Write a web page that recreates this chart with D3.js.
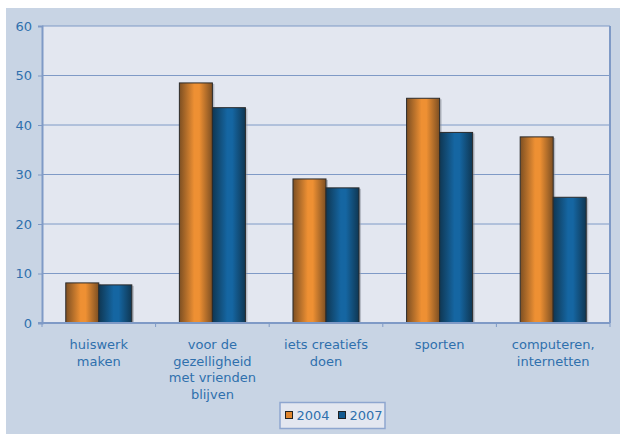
<!DOCTYPE html>
<html>
<head>
<meta charset="UTF-8">
<script src="https://cdn.jsdelivr.net/npm/d3@7"></script>
<style>
  body { margin: 0; background: #fff; }
  svg text { font-family: "DejaVu Sans", Verdana, sans-serif; fill: #2f70ad; }
</style>
</head>
<body>
<script>
// data
var categories = [
  ["huiswerk", "maken"],
  ["voor de", "gezelligheid", "met vrienden", "blijven"],
  ["iets creatiefs", "doen"],
  ["sporten"],
  ["computeren,", "internetten"]
];
var years = ["2004", "2007"];
var values2004 = [8.1, 48.5, 29.1, 45.4, 37.6];
var values2007 = [7.7, 43.5, 27.3, 38.5, 25.4];
var yTicks = [0, 10, 20, 30, 40, 50, 60];

var W = 623, H = 434;
var plot = { left: 42, top: 26, right: 610, bottom: 323 };

var svg = d3.select("body").append("svg")
  .attr("width", W)
  .attr("height", H);

var defs = svg.append("defs");
function cylGrad(id, edge, mid) {
  var g = defs.append("linearGradient").attr("id", id)
    .attr("x1", "0%").attr("x2", "100%").attr("y1", "0%").attr("y2", "0%");
  g.append("stop").attr("offset", "0%").attr("stop-color", edge);
  g.append("stop").attr("offset", "45%").attr("stop-color", mid);
  g.append("stop").attr("offset", "60%").attr("stop-color", mid);
  g.append("stop").attr("offset", "100%").attr("stop-color", edge);
}
cylGrad("g2004", "#7d4f22", "#ee9033");
cylGrad("g2007", "#0f3753", "#1566a2");
var fills = { "2004": "url(#g2004)", "2007": "url(#g2007)" };
var swatch = { "2004": "#e0862f", "2007": "#135a8f" };

// outer background
svg.append("rect")
  .attr("x", 6).attr("y", 8)
  .attr("width", 614).attr("height", H - 8)
  .attr("fill", "#c8d4e4");

// plot area
svg.append("rect")
  .attr("x", plot.left).attr("y", plot.top)
  .attr("width", plot.right - plot.left).attr("height", plot.bottom - plot.top)
  .attr("fill", "#e3e7f0");

var y = d3.scaleLinear().domain([0, 60]).range([plot.bottom, plot.top]);
var x0 = d3.scaleBand().domain(d3.range(categories.length))
  .range([plot.left, plot.right]).paddingInner(0).paddingOuter(0);
var x1 = d3.scaleBand().domain(years)
  .range([0, x0.bandwidth()]).paddingInner(0).paddingOuter(0.72);

// gridlines
svg.append("g").selectAll("line")
  .data(yTicks.filter(function(d) { return d > 0; }))
  .enter().append("line")
  .attr("x1", plot.left).attr("x2", plot.right)
  .attr("y1", function(d) { return y(d); })
  .attr("y2", function(d) { return y(d); })
  .attr("stroke", "#7f9ac6").attr("stroke-width", 1);

// right border of plot
svg.append("line")
  .attr("x1", plot.right).attr("x2", plot.right)
  .attr("y1", plot.top).attr("y2", plot.bottom)
  .attr("stroke", "#7f9ac6").attr("stroke-width", 2);

// bars
var groups = svg.append("g").selectAll("g")
  .data(categories.map(function(c, i) {
    return { i: i, vals: [{ year: "2004", v: values2004[i] }, { year: "2007", v: values2007[i] }] };
  }))
  .enter().append("g")
  .attr("transform", function(d) { return "translate(" + x0(d.i) + ",0)"; });

// shadows
groups.selectAll("rect.shadow")
  .data(function(d) { return d.vals; })
  .enter().append("rect")
  .attr("class", "shadow")
  .attr("x", function(d) { return x1(d.year) + 2; })
  .attr("y", function(d) { return y(d.v) + 1; })
  .attr("width", x1.bandwidth())
  .attr("height", function(d) { return plot.bottom - y(d.v) - 1; })
  .attr("fill", "#8a8f99").attr("opacity", 0.5);

groups.selectAll("rect.bar")
  .data(function(d) { return d.vals; })
  .enter().append("rect")
  .attr("class", "bar")
  .attr("x", function(d) { return x1(d.year); })
  .attr("y", function(d) { return y(d.v); })
  .attr("width", x1.bandwidth())
  .attr("height", function(d) { return plot.bottom - y(d.v); })
  .attr("fill", function(d) { return fills[d.year]; })
  .attr("stroke", "#2b2b2b").attr("stroke-width", 1);

// y axis
var yAxis = svg.append("g")
  .attr("transform", "translate(" + plot.left + ",0)")
  .call(d3.axisLeft(y).tickValues(yTicks).tickSize(4).tickPadding(6));
yAxis.select(".domain").attr("stroke", "#7f9ac6").attr("stroke-width", 2);
yAxis.selectAll(".tick line").attr("stroke", "#7f9ac6");
yAxis.selectAll(".tick text").attr("font-size", "13px")
  .style("font-family", "DejaVu Sans, Verdana, sans-serif");

// x axis
var xAxis = svg.append("g")
  .attr("transform", "translate(0," + plot.bottom + ")");
xAxis.append("line")
  .attr("x1", plot.left - 4).attr("x2", plot.right)
  .attr("y1", 0).attr("y2", 0)
  .attr("stroke", "#7f9ac6").attr("stroke-width", 2);
xAxis.selectAll("line.tk")
  .data(d3.range(categories.length + 1))
  .enter().append("line")
  .attr("class", "tk")
  .attr("x1", function(d) { return plot.left + d * x0.bandwidth(); })
  .attr("x2", function(d) { return plot.left + d * x0.bandwidth(); })
  .attr("y1", 0).attr("y2", 4)
  .attr("stroke", "#7f9ac6");

var labels = xAxis.selectAll("text.cat")
  .data(categories)
  .enter().append("text")
  .attr("class", "cat")
  .attr("text-anchor", "middle")
  .attr("font-size", "13px")
  .attr("x", function(d, i) { return x0(i) + x0.bandwidth() / 2; })
  .attr("y", 26);
labels.selectAll("tspan")
  .data(function(d) { return d; })
  .enter().append("tspan")
  .attr("x", function() { return d3.select(this.parentNode).attr("x"); })
  .attr("dy", function(d, i) { return i === 0 ? 0 : 16.5; })
  .text(function(d) { return d; });

// legend
var legend = svg.append("g");
legend.append("rect")
  .attr("x", 280).attr("y", 402.5)
  .attr("width", 105).attr("height", 26)
  .attr("fill", "#e3e7f0").attr("stroke", "#8ea6cf").attr("stroke-width", 1.5);
var legX = [285.5, 338.5];
years.forEach(function(yr, i) {
  legend.append("rect")
    .attr("x", legX[i]).attr("y", 411.5)
    .attr("width", 7).attr("height", 7)
    .attr("fill", swatch[yr]).attr("stroke", "#222");
  legend.append("text")
    .attr("x", legX[i] + 11).attr("y", 420)
    .attr("font-size", "13px")
    .text(yr);
});
</script>
</body>
</html>
